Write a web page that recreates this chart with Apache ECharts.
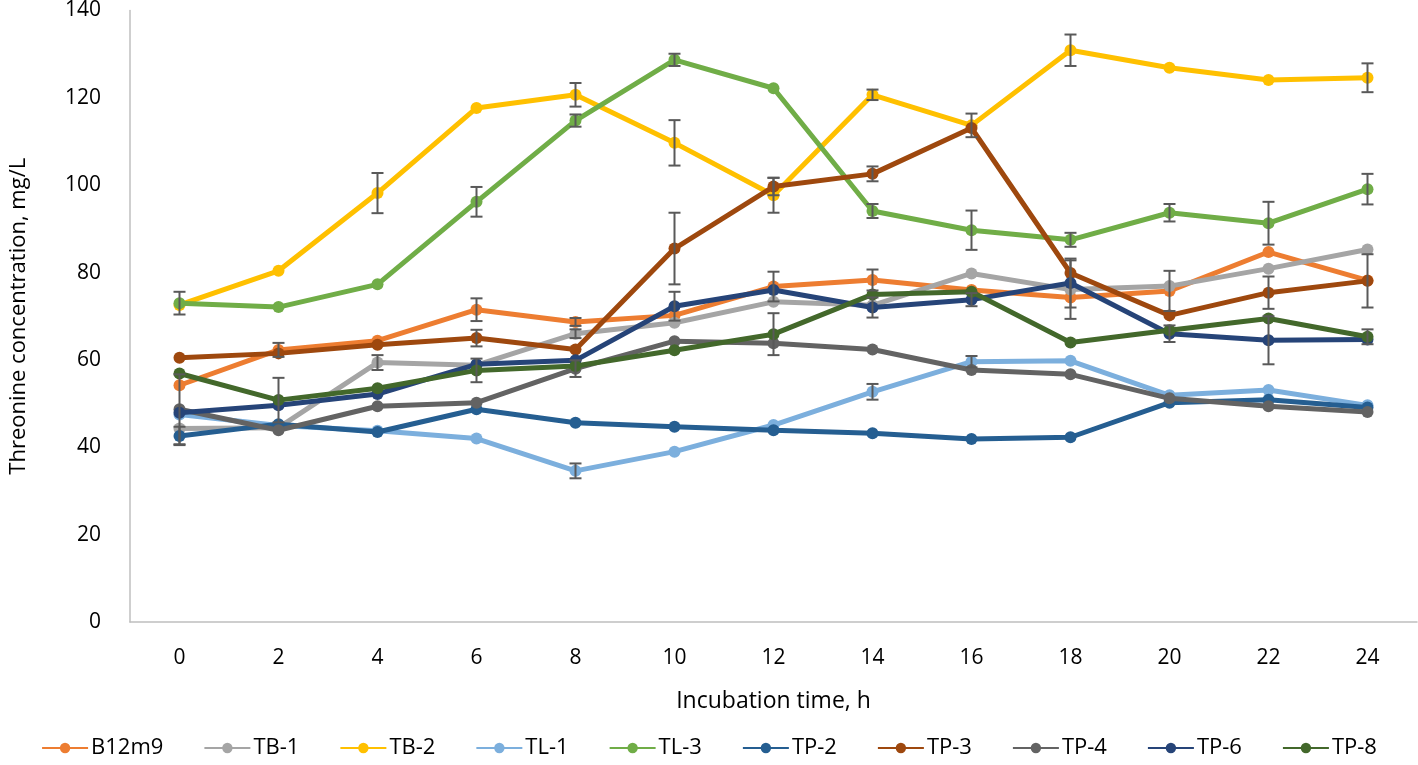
<!DOCTYPE html>
<html>
<head>
<meta charset="utf-8">
<script src="https://cdn.jsdelivr.net/npm/echarts@6/dist/echarts.min.js"></script>
<style>
html,body{margin:0;padding:0;background:#fff;}
#chart{width:1418px;height:765px;}
</style>
</head>
<body>
<div id="chart"></div>
<script>
const hours = ['0','2','4','6','8','10','12','14','16','18','20','22','24'];
const yTicks = [0,20,40,60,80,100,120,140];

const B12m9 = [54.2, 62.3, 64.4, 71.5, 68.7, 70.2, 76.8, 78.3, 76.0, 74.3, 75.8, 84.7, 78.2];
const TB1   = [44.3, 44.5, 59.4, 58.8, 66.0, 68.5, 73.3, 72.5, 79.8, 76.1, 76.9, 80.9, 85.3];
const TB2   = [72.6, 80.4, 98.2, 117.7, 120.7, 109.7, 97.7, 120.7, 113.7, 130.9, 126.9, 124.1, 124.6];
const TL1   = [47.5, 45.0, 43.8, 42.0, 34.6, 39.0, 45.1, 52.7, 59.6, 59.8, 51.9, 53.1, 49.6];
const TL3   = [73.0, 72.1, 77.3, 96.2, 114.8, 128.7, 122.2, 94.1, 89.7, 87.5, 93.7, 91.3, 99.1];
const TP2   = [42.6, 45.3, 43.5, 48.7, 45.6, 44.7, 43.9, 43.2, 41.9, 42.3, 50.2, 50.9, 49.1];
const TP3   = [60.5, 61.5, 63.5, 65.0, 62.4, 85.5, 99.7, 102.6, 113.1, 79.9, 70.2, 75.4, 78.1];
const TP4   = [48.7, 43.9, 49.4, 50.2, 58.0, 64.3, 63.8, 62.4, 57.7, 56.7, 51.2, 49.4, 48.1];
const TP6   = [47.9, 49.6, 52.2, 59.0, 59.9, 72.3, 76.0, 72.0, 73.8, 77.6, 66.0, 64.5, 64.7];
const TP8   = [56.9, 50.8, 53.5, 57.6, 58.6, 62.2, 65.9, 75.0, 75.6, 64.0, 66.8, 69.5, 65.3];

// error magnitudes (±), 0 = no visible bar
const B12m9Err = [0, 1.6, 0, 2.6, 0.9, 0, 3.4, 2.4, 0, 0, 4.6, 0, 0];
const TB1Err   = [0, 0, 1.7, 0, 1.0, 0, 0, 0, 0, 6.7, 0, 0, 0];
const TB2Err   = [0, 0, 4.6, 0, 2.7, 5.2, 4.0, 1.2, 2.7, 3.6, 0, 0, 3.3];
const TL1Err   = [0, 0, 0, 0, 1.7, 0, 0, 1.8, 1.3, 0, 0, 0, 0];
const TL3Err   = [2.6, 0, 0, 3.4, 1.4, 1.4, 0, 1.6, 4.5, 1.6, 2.0, 4.9, 3.5];
const TP2Err   = [2.1, 0, 0, 0, 0, 0, 0, 0, 0, 0, 0, 0, 0];
const TP3Err   = [0, 0, 0, 1.9, 0, 8.2, 2.0, 1.7, 0, 0, 0, 3.7, 6.1];
const TP4Err   = [8.0, 0, 0, 0, 1.9, 0, 0, 0, 0, 0, 0, 0, 0];
const TP6Err   = [0, 0, 0, 0, 0, 3.3, 0, 2.3, 1.5, 5.6, 1.9, 5.5, 0];
const TP8Err   = [0, 5.1, 0, 2.7, 0, 0, 4.8, 0, 0, 0, 0, 0, 1.7];

const seriesDefs = [
  {name:'B12m9', data:B12m9, err:B12m9Err, color:'#ED7D31'},
  {name:'TB-1',  data:TB1,   err:TB1Err,   color:'#A5A5A5'},
  {name:'TB-2',  data:TB2,   err:TB2Err,   color:'#FFC000'},
  {name:'TL-1',  data:TL1,   err:TL1Err,   color:'#7CAFDD'},
  {name:'TL-3',  data:TL3,   err:TL3Err,   color:'#70AD47'},
  {name:'TP-2',  data:TP2,   err:TP2Err,   color:'#255E91'},
  {name:'TP-3',  data:TP3,   err:TP3Err,   color:'#9E480E'},
  {name:'TP-4',  data:TP4,   err:TP4Err,   color:'#636363'},
  {name:'TP-6',  data:TP6,   err:TP6Err,   color:'#264478'},
  {name:'TP-8',  data:TP8,   err:TP8Err,   color:'#43682B'}
];

const FONT = 'Open Sans';

const errData = [];
seriesDefs.forEach(s => {
  s.err.forEach((e, i) => {
    if (e > 0) errData.push([i, s.data[i] - e, s.data[i] + e]);
  });
});

const series = seriesDefs.map((s, k) => ({
  name: s.name,
  type: 'line',
  data: s.data,
  symbol: 'circle',
  symbolSize: 12,
  z: 2 + k,
  lineStyle: {width: 5, color: s.color},
  itemStyle: {color: s.color},
  emphasis: {disabled: true},
  animation: false
}));

series.push({
  type: 'custom',
  z: 20,
  silent: true,
  animation: false,
  data: errData,
  renderItem: function(params, api) {
    const x = api.value(0);
    const lo = api.coord([x, api.value(1)]);
    const hi = api.coord([x, api.value(2)]);
    const cw = 6;
    const st = {stroke: '#595959', lineWidth: 2};
    return {
      type: 'group',
      children: [
        {type: 'line', shape: {x1: lo[0], y1: lo[1], x2: hi[0], y2: hi[1]}, style: st},
        {type: 'line', shape: {x1: lo[0]-cw, y1: lo[1], x2: lo[0]+cw, y2: lo[1]}, style: st},
        {type: 'line', shape: {x1: hi[0]-cw, y1: hi[1], x2: hi[0]+cw, y2: hi[1]}, style: st}
      ]
    };
  }
});

const chart = echarts.init(document.getElementById('chart'));
chart.setOption({
  backgroundColor: '#fff',
  animation: false,
  textStyle: {fontFamily: FONT},
  grid: {left: 130, right: 1, top: 10, bottom: 143, containLabel: false},
  legend: {
    data: seriesDefs.map(s => s.name),
    bottom: 1,
    left: 'center',
    itemWidth: 46,
    itemHeight: 13,
    itemGap: 40,
    textStyle: {fontFamily: FONT, fontSize: 22, color: '#000', padding: [0,0,0,-2]}
  },
  xAxis: {
    type: 'category',
    data: hours,
    boundaryGap: true,
    name: 'Incubation time, h',
    nameLocation: 'middle',
    nameGap: 68,
    nameTextStyle: {fontFamily: FONT, fontSize: 23, color: '#000'},
    axisLine: {lineStyle: {color: '#BFBFBF', width: 1.5}},
    axisTick: {show: false},
    axisLabel: {fontFamily: FONT, fontSize: 21, color: '#000', margin: 26},
    splitLine: {show: false}
  },
  yAxis: {
    type: 'value',
    min: yTicks[0],
    max: yTicks[yTicks.length - 1],
    interval: 20,
    name: 'Threonine concentration, mg/L',
    nameLocation: 'middle',
    nameGap: 100,
    nameTextStyle: {fontFamily: FONT, fontSize: 22, color: '#000'},
    axisLine: {show: true, lineStyle: {color: '#BFBFBF', width: 1.5}},
    axisTick: {show: false},
    axisLabel: {fontFamily: FONT, fontSize: 21, color: '#000', margin: 29},
    splitLine: {show: false}
  },
  series: series
});
</script>
</body>
</html>
